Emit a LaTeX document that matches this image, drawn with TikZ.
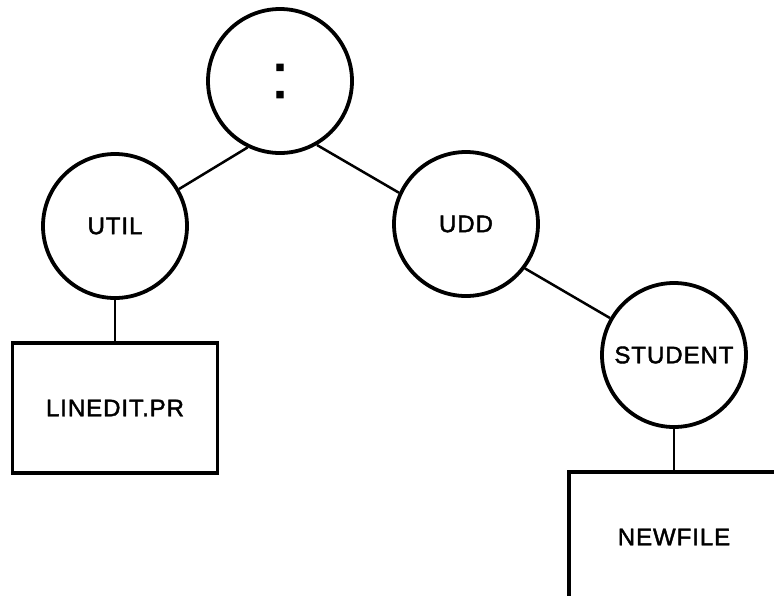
\documentclass[tikz,border=0pt]{standalone}
\usepackage{fontspec}
\setmainfont{Liberation Sans}
\newfontfamily\treefont[LetterSpace=4, FakeBold=1.8]{Liberation Sans}

\tikzset{
  dir/.style={circle, draw=black, line width=3.8pt, minimum size=144pt, inner sep=0pt,
    font=\treefont\fontsize{24}{28}\selectfont},
  file/.style={rectangle, draw=black, line width=3.6pt, minimum width=205pt, minimum height=130pt,
    inner sep=0pt, font=\treefont\fontsize{24}{28}\selectfont},
  link/.style={line width=2.5pt}
}

\begin{document}
\begin{tikzpicture}[x=1pt, y=-1pt]
  \clip (0,0) rectangle (774,595);

  % directories
  \node[dir] (root) at (280,81) {\fontsize{64}{64}\selectfont :};
  \node[dir] (util) at (115,226) {UTIL};
  \node[dir] (udd) at (466,224) {UDD};
  \node[dir] (student) at (674,355) {STUDENT};

  % files
  \node[file] (linedit) at (115,408) {LINEDIT.PR};
  \node[file, minimum width=210pt] (newfile) at (674,537) {NEWFILE};

  \draw[link] (root.244) -- (util.30);
  \draw[link] (root.300) -- (udd.155);
  \draw[link] (udd.323) -- (student.150);
  \draw[link] (util.south) -- (linedit.north);
  \draw[link] (student.south) -- (newfile.north);
\end{tikzpicture}
\end{document}
